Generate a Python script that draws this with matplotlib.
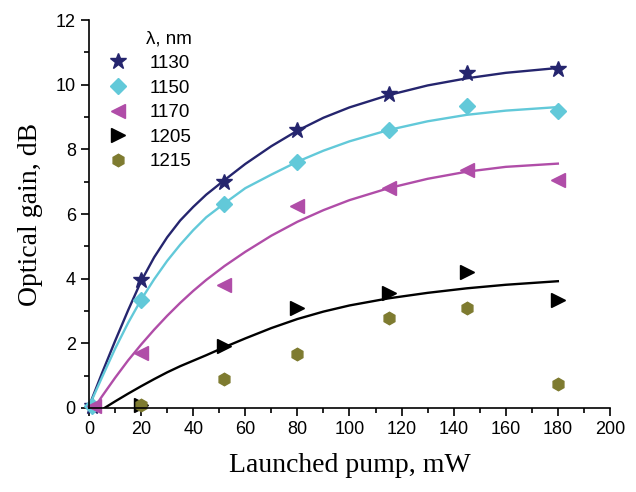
import matplotlib.pyplot as plt
from matplotlib.ticker import MultipleLocator

# measured points
x_meas = [1, 20, 52, 80, 115, 145, 180]
g1130 = [0.05, 3.95, 7.0, 8.6, 9.7, 10.35, 10.5]
g1150 = [0.05, 3.35, 6.3, 7.6, 8.6, 9.35, 9.2]
x1170 = [2, 20, 52, 80, 115, 145, 180]
g1170 = [0.05, 1.7, 3.8, 6.25, 6.8, 7.35, 7.05]
x_low = [20, 52, 80, 115, 145, 180]
g1205 = [0.1, 1.9, 3.1, 3.55, 4.2, 3.35]
g1215 = [0.1, 0.9, 1.68, 2.78, 3.08, 0.74]

# fitted curves
xf = [0, 5, 10, 15, 20, 25, 30, 35, 40, 45, 52, 60, 70, 80, 90, 100, 115, 130, 145, 160, 180]
f1130 = [0.05, 1.08, 2.07, 3.02, 3.92, 4.66, 5.28, 5.8, 6.22, 6.6, 7.05, 7.55, 8.1, 8.58,
         8.98, 9.3, 9.68, 9.98, 10.2, 10.37, 10.52]
f1150 = [0.05, 0.95, 1.83, 2.63, 3.35, 3.98, 4.55, 5.05, 5.5, 5.9, 6.33, 6.8, 7.22, 7.62,
         7.96, 8.25, 8.6, 8.87, 9.07, 9.2, 9.31]
xf1170 = [2, 5, 10, 15, 20, 25, 30, 35, 40, 45, 52, 60, 70, 80, 90, 100, 115, 130, 145, 160, 180]
f1170 = [0.0, 0.36, 0.93, 1.47, 1.96, 2.42, 2.85, 3.25, 3.62, 3.96, 4.39, 4.83, 5.33, 5.76,
         6.12, 6.43, 6.8, 7.09, 7.31, 7.46, 7.56]
xf1205 = [6, 10, 15, 20, 25, 30, 35, 40, 45, 52, 60, 70, 80, 90, 100, 115, 130, 145, 160, 180]
f1205 = [0.0, 0.2, 0.44, 0.67, 0.89, 1.1, 1.29, 1.46, 1.63, 1.88, 2.15, 2.47, 2.75, 2.98,
         3.17, 3.39, 3.56, 3.7, 3.81, 3.92]

navy = '#25256E'
cyan = '#62C9D9'
magenta = '#B04DA8'
olive = '#7E7B30'

fig = plt.figure(figsize=(6.36, 4.92), dpi=100)
ax = fig.add_axes([0.140, 0.171, 0.819, 0.788])

ax.plot(xf, f1130, color=navy, lw=1.7)
ax.plot(xf, f1150, color=cyan, lw=1.7)
ax.plot(xf1170, f1170, color=magenta, lw=1.7)
ax.plot(xf1205, f1205, color='black', lw=1.7)

ax.plot(x_meas, g1130, '*', color=navy, ms=12, ls='none', label='1130', clip_on=False)
ax.plot(x_meas, g1150, 'D', color=cyan, ms=8, ls='none', label='1150', clip_on=False)
ax.plot(x1170, g1170, '<', color=magenta, ms=10, ls='none', label='1170', clip_on=False)
ax.plot(x_low, g1205, '>', color='black', ms=10, ls='none', label='1205', clip_on=False)
ax.plot(x_low, g1215, 'h', color=olive, ms=9, ls='none', label='1215', clip_on=False)

ax.set_xlim(0, 200)
ax.set_ylim(0, 12)
ax.xaxis.set_major_locator(MultipleLocator(20))
ax.xaxis.set_minor_locator(MultipleLocator(10))
ax.yaxis.set_major_locator(MultipleLocator(2))
ax.yaxis.set_minor_locator(MultipleLocator(1))
ax.spines['top'].set_visible(False)
ax.spines['right'].set_visible(False)
for s in ['left', 'bottom']:
    ax.spines[s].set_linewidth(1.2)
ax.tick_params(which='major', direction='out', length=6, width=1.2,
               labelsize=13, labelfontfamily='Liberation Sans')
ax.tick_params(which='minor', direction='out', length=3.5, width=1.2)

ax.set_xlabel('Launched pump, mW', fontfamily='Liberation Serif', fontsize=20, labelpad=11)
ax.set_ylabel('Optical gain, dB', fontfamily='Liberation Serif', fontsize=20, labelpad=9)

leg = ax.legend(title='λ, nm', loc='upper left', bbox_to_anchor=(0.005, 1.003),
                frameon=False, prop={'family': 'Liberation Sans', 'size': 13.5},
                handlelength=1.6, handletextpad=0.9, labelspacing=0.4, borderaxespad=0.2)
leg.get_title().set_fontfamily('Liberation Sans')
leg.get_title().set_fontsize(13.5)
leg._legend_box.align = 'right'

fig.savefig('out.png', dpi=100)
